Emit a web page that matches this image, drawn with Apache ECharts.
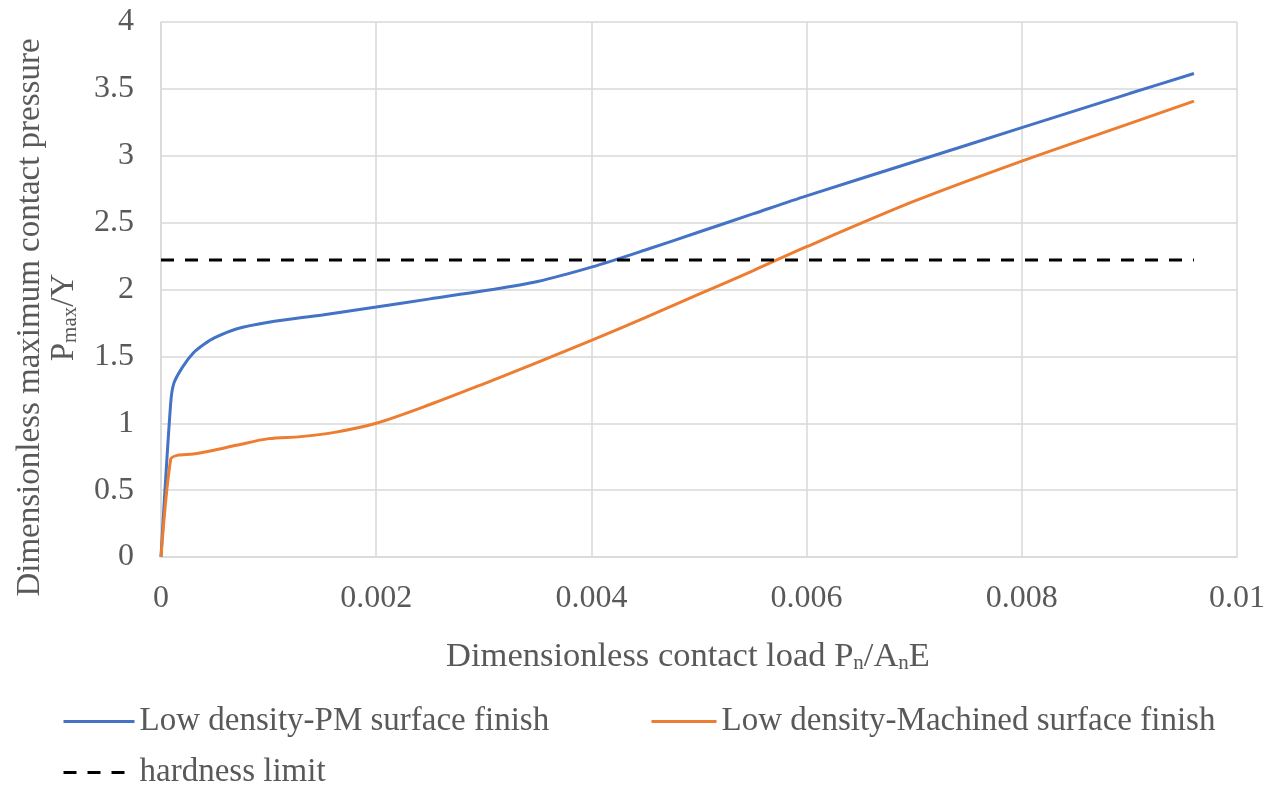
<!DOCTYPE html>
<html lang="en" style="height: 100%">
<head>
    <meta charset="UTF-8">
    <title>Dimensionless contact pressure</title>
    <script src="https://cdn.jsdelivr.net/npm/echarts@6/dist/echarts.min.js"></script>
</head>
<body style="height: 100%; margin: 0">
<div id="main" style="width: 1281px; height: 790px"></div>
<script>
    // values
    var pmLoad = [0, 0.00009, 0.00012, 0.0002, 0.0003, 0.0004, 0.0005, 0.0007, 0.001, 0.0015, 0.002, 0.0025,
        0.003, 0.0035, 0.004, 0.0045, 0.005, 0.0055, 0.006, 0.007, 0.008, 0.009, 0.0096];
    var pmPressure = [0, 1.15, 1.30, 1.42, 1.525, 1.59, 1.64, 1.705, 1.755, 1.81, 1.869, 1.93,
        1.99, 2.06, 2.167, 2.295, 2.43, 2.565, 2.70, 2.955, 3.21, 3.465, 3.615];

    var machLoad = [0, 0.00009, 0.00015, 0.0003, 0.0005, 0.0007, 0.001, 0.0013, 0.0016, 0.002, 0.0025,
        0.003, 0.0035, 0.004, 0.0045, 0.005, 0.0055, 0.006, 0.007, 0.008, 0.009, 0.0096];
    var machPressure = [0, 0.73, 0.76, 0.77, 0.80, 0.835, 0.885, 0.90, 0.93, 1.0, 1.14,
        1.295, 1.455, 1.62, 1.79, 1.965, 2.14, 2.32, 2.66, 2.96, 3.24, 3.408];

    var limitLoad = [0, 0.0096];
    var limitValue = 2.22;

    var names = ['Low density-PM surface finish', 'Low density-Machined surface finish', 'hardness limit'];

    function pairs(xs, ys) {
        return xs.map(function (x, i) { return [x, ys[i]]; });
    }

    var font = 'Liberation Serif';
    var grey = '#595959';
    var subStyle = {fontFamily: font, fontSize: 21, color: grey, verticalAlign: 'bottom', padding: [14, 0, 0, 0]};

    function legendAt(name, left, top, iconWidth) {
        return {
            data: [name], left: left, top: top, padding: 0, itemWidth: iconWidth, itemHeight: 14, itemGap: 6,
            itemStyle: {opacity: 0},
            lineStyle: {width: 3},
            textStyle: {fontFamily: font, fontSize: 33, color: grey}
        };
    }

    var option = {
        animation: false,
        textStyle: {fontFamily: font},
        grid: {left: 161, right: 44, top: 22, bottom: 233, outerBoundsMode: 'none'},
        legend: [
            legendAt(names[0], 62, 705, 71),
            legendAt(names[1], 650, 705, 65),
            legendAt(names[2], 62, 756, 71)
        ],
        xAxis: {
            type: 'value',
            min: 0,
            max: 0.01,
            interval: 0.002,
            name: 'Dimensionless contact load P{sub|n}/A{sub|n}E',
            nameLocation: 'middle',
            nameGap: 82,
            nameTextStyle: {
                fontFamily: font, fontSize: 34.5, color: grey, padding: [0, 22, 0, 0],
                rich: {sub: subStyle}
            },
            axisLine: {lineStyle: {color: '#d9d9d9', width: 1.5}},
            axisTick: {show: false},
            axisLabel: {fontFamily: font, fontSize: 32, color: grey, margin: 26},
            splitLine: {lineStyle: {color: '#d9d9d9', width: 1.5}}
        },
        yAxis: {
            type: 'value',
            min: 0,
            max: 4,
            interval: 0.5,
            name: 'Dimensionless maximum contact pressure\nP{sub|max}/Y',
            nameLocation: 'middle',
            nameRotate: 90,
            nameGap: 80,
            nameTextStyle: {
                fontFamily: font, fontSize: 33, color: grey, lineHeight: 34, padding: [0, 56, 0, 0],
                rich: {sub: subStyle}
            },
            axisLine: {show: true, lineStyle: {color: '#d9d9d9', width: 1.5}},
            axisTick: {show: false},
            axisLabel: {fontFamily: font, fontSize: 32, color: grey, margin: 27},
            splitLine: {lineStyle: {color: '#d9d9d9', width: 1.5}}
        },
        series: [
            {
                name: names[0],
                type: 'line',
                smooth: 0.3,
                symbol: 'none',
                lineStyle: {color: '#4472c4', width: 3},
                itemStyle: {color: '#4472c4'},
                data: pairs(pmLoad, pmPressure)
            },
            {
                name: names[1],
                type: 'line',
                smooth: 0.3,
                symbol: 'none',
                lineStyle: {color: '#ed7d31', width: 3},
                itemStyle: {color: '#ed7d31'},
                data: pairs(machLoad, machPressure)
            },
            {
                name: names[2],
                type: 'line',
                symbol: 'none',
                lineStyle: {color: '#000000', width: 3, type: [13, 11]},
                itemStyle: {color: '#000000'},
                data: limitLoad.map(function (x) { return [x, limitValue]; })
            }
        ]
    };

    var myChart = echarts.init(document.getElementById('main'));
    myChart.setOption(option);
</script>
</body>
</html>
